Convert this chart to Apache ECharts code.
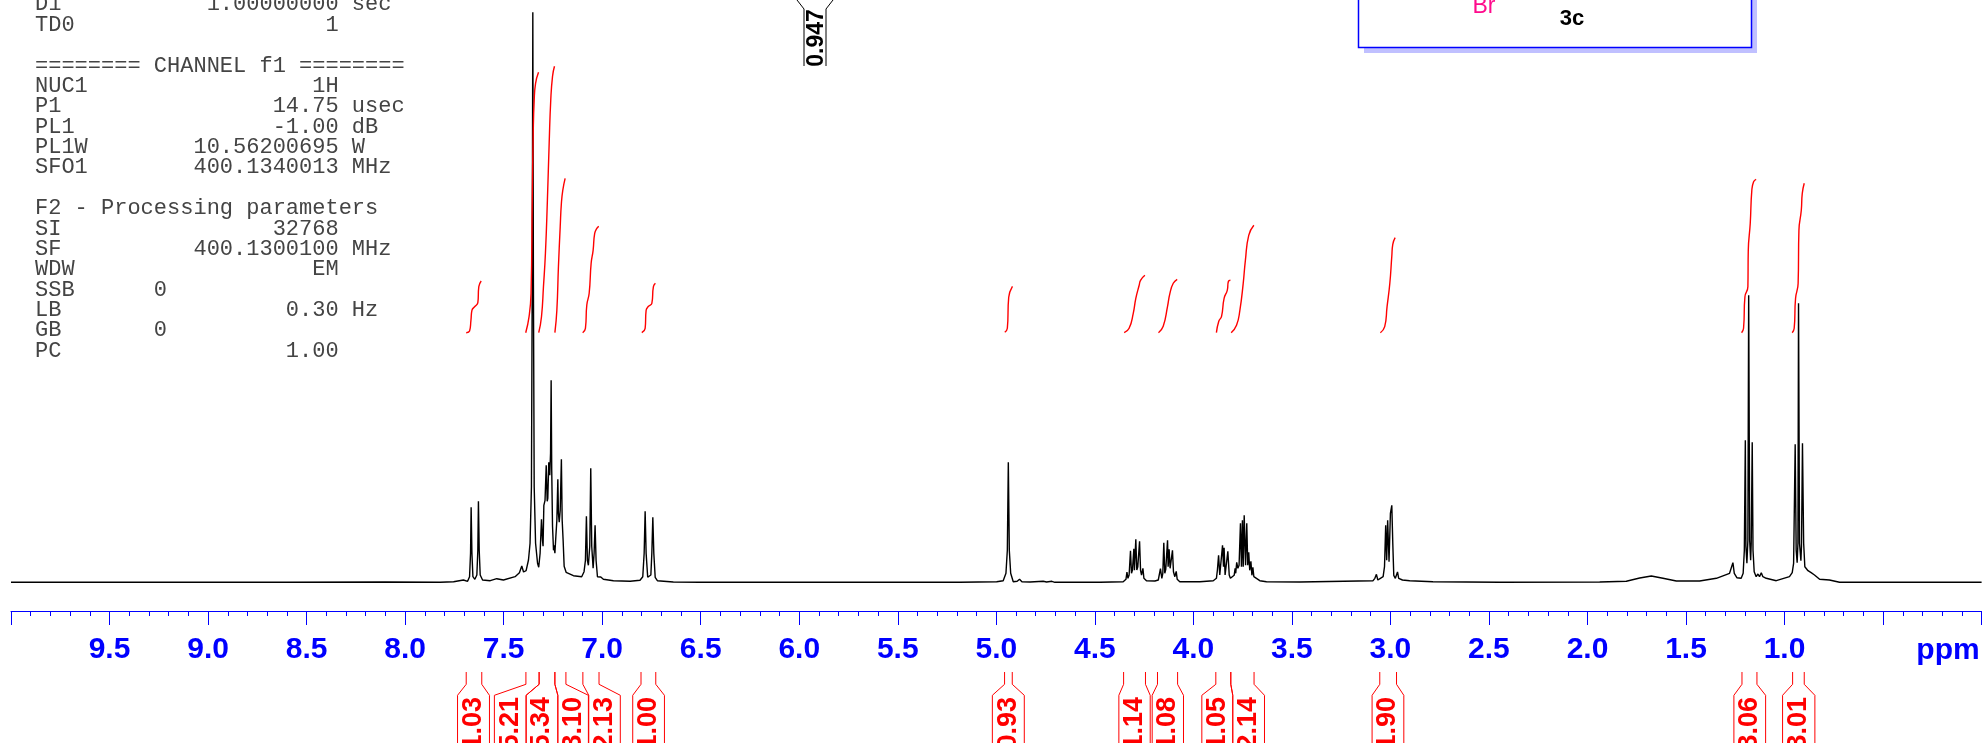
<!DOCTYPE html>
<html><head><meta charset="utf-8">
<style>html,body{margin:0;padding:0;background:#fff}#c{width:1982px;height:743px}</style>
<script src="https://cdn.jsdelivr.net/npm/echarts@6/dist/echarts.min.js"></script>
</head><body><div id="c"></div>
<script>
// x axis tick labels
const tickLabels = ['9.5','9.0','8.5','8.0','7.5','7.0','6.5','6.0','5.5','5.0','4.5','4.0','3.5','3.0','2.5','2.0','1.5','1.0'];

// spectrum: [ppm, intensity]
const specAromatic = [[10,0],[9.2,0.2],[8.6,0],[8.1,0.3],[7.822,0],[7.754,.6],[7.704,2.3],[7.683,1],[7.673,5.6],[7.668,29],[7.665,75],[7.661,29],[7.656,5.6],[7.646,3],[7.636,7.3],[7.631,32],[7.628,81],[7.624,32],[7.619,7.3],[7.607,2.3],[7.568,1.6],[7.535,3.6],[7.501,2.3],[7.442,5.6],[7.42,9.6],[7.408,16.3],[7.399,10.3],[7.386,11.6],[7.374,22.3],[7.366,39],[7.359,95.6],[7.355,300],[7.352,570],[7.349,300],[7.345,95.6],[7.338,39],[7.328,19],[7.322,15],[7.315,29],[7.308,63],[7.303,42],[7.3,36],[7.296,77],[7.29,82],[7.284,117],[7.279,81],[7.276,84],[7.271,120],[7.266,107],[7.262,129],[7.259,202],[7.256,112],[7.252,56],[7.247,32],[7.244,37],[7.24,29],[7.235,46],[7.23,62],[7.225,103],[7.222,69],[7.218,60],[7.213,72],[7.207,123],[7.203,62],[7.198,41],[7.193,16],[7.183,10],[7.146,6.6],[7.104,5.6],[7.092,10.6],[7.085,22],[7.08,66],[7.075,22],[7.07,17],[7.063,36],[7.058,114],[7.053,36],[7.046,14],[7.041,29],[7.036,57],[7.031,22],[7.024,5.6],[7.014,4.3],[7.007,5.3],[6.994,3],[6.943,1.6],[6.858,1],[6.808,2],[6.794,5.6],[6.787,29],[6.782,71],[6.777,29],[6.769,5],[6.762,3.6],[6.753,7.3],[6.748,29],[6.743,65],[6.738,29],[6.731,5],[6.72,1.6],[6.639,.3],[6.503,0]];
const specBenzylic = [[5.185,0],[4.998,.6],[4.965,1.6],[4.951,9],[4.944,32],[4.939,120],[4.934,32],[4.927,9],[4.914,.6],[4.894,1],[4.882,3],[4.87,.6],[4.829,.3],[4.762,1],[4.745,.3],[4.718,1],[4.703,0],[4.474,0]];
const specMethine = [[4.356,.6],[4.342,3],[4.337,10.3],[4.332,4],[4.326,7.3],[4.319,31.6],[4.314,9],[4.309,12.3],[4.302,33.6],[4.299,12],[4.292,43],[4.287,12.3],[4.282,15.6],[4.273,41],[4.268,12],[4.263,7.3],[4.256,14],[4.251,4],[4.238,1.6],[4.195,1.3],[4.178,2.3],[4.167,13.6],[4.16,4],[4.155,9],[4.15,39.6],[4.145,9],[4.14,13],[4.131,42],[4.128,15.6],[4.123,33],[4.118,14],[4.113,12.3],[4.106,32],[4.101,10.6],[4.094,5.6],[4.087,11],[4.082,3],[4.069,.6],[3.967,.6],[3.899,1.6],[3.883,4],[3.878,12.3],[3.872,27],[3.866,7.3],[3.859,7.3],[3.852,37],[3.847,15.6],[3.844,34.6],[3.839,7.3],[3.832,9],[3.825,31],[3.818,7.3],[3.812,4],[3.802,3],[3.793,7],[3.788,14],[3.785,9],[3.78,20],[3.774,14],[3.768,17],[3.761,59],[3.756,15.6],[3.751,62],[3.747,15.6],[3.742,67],[3.735,17],[3.729,59],[3.724,17],[3.719,30],[3.714,12],[3.708,21],[3.703,7],[3.698,15],[3.693,5.6],[3.683,4],[3.663,1.6],[3.629,.6],[3.46,.3],[3.088,1.6],[3.079,4],[3.071,8],[3.064,2.3],[3.051,4],[3.037,5.6],[3.03,15.6],[3.024,57],[3.019,22],[3.014,62],[3.007,20.6],[3,69],[2.993,77],[2.988,39],[2.983,7],[2.975,4],[2.964,10.3],[2.958,4],[2.948,5],[2.939,2.3],[2.902,1.6],[2.784,.6],[2.446,0]];
const specHump = [[1.938,.3],[1.803,1],[1.735,4.3],[1.676,6.3],[1.617,4],[1.549,1.3],[1.431,1.3]];
const specMethyl = [[1.346,4],[1.279,9],[1.27,10.6],[1.262,19.6],[1.255,9],[1.242,4.6],[1.22,4],[1.21,9],[1.204,32],[1.199,142],[1.196,36],[1.191,19],[1.186,42],[1.182,287],[1.177,42],[1.172,22],[1.169,39],[1.164,140],[1.16,32],[1.154,10.6],[1.144,5.6],[1.135,8.3],[1.127,5.6],[1.118,9.6],[1.11,5.6],[1.093,4],[1.042,1.6],[.975,5.6],[.961,9.6],[.954,19],[.946,138],[.941,32],[.936,19.6],[.932,39],[.929,279],[.924,39],[.917,21.6],[.914,36],[.909,139],[.903,39],[.897,15.6],[.881,11.6],[.865,9.6],[.848,7.3],[.822,3],[.772,2.3],[.721,0],[0,0]];

// integral curves: [ppm, curve height]
const intA = [[7.69,249.6],[7.673,251.3],[7.666,262],[7.661,272],[7.645,276],[7.631,279.6],[7.626,295.6],[7.614,301.3]];
const intB = [[7.388,249.6],[7.371,265.6],[7.361,289],[7.355,382],[7.35,449],[7.345,482],[7.338,499],[7.323,510]];
const intC = [[7.322,249.6],[7.308,265.6],[7.298,295.6],[7.288,329],[7.278,382],[7.269,439],[7.261,482],[7.252,506],[7.242,516]];
const intD = [[7.24,249.6],[7.23,272],[7.222,315.6],[7.213,355.6],[7.207,379],[7.2,392],[7.188,404]];
const intE = [[7.099,249.6],[7.085,254],[7.078,277.3],[7.066,289],[7.056,319],[7.046,332],[7.038,349],[7.027,354],[7.017,356]];
const intF = [[6.799,249.6],[6.782,254],[6.777,272],[6.765,276],[6.748,279],[6.74,295.6],[6.73,299]];
const intG = [[4.957,250],[4.944,254],[4.937,285],[4.918,296]];
const intH = [[4.351,249.6],[4.326,254],[4.305,269],[4.292,284],[4.275,297],[4.268,302],[4.246,307]];
const intI = [[4.177,249.6],[4.153,256],[4.131,276],[4.119,289],[4.102,299],[4.082,303]];
const intJ = [[3.883,249.6],[3.871,261],[3.857,266],[3.844,284],[3.828,292],[3.822,301],[3.812,302]];
const intK = [[3.808,249.6],[3.781,257],[3.764,272],[3.747,299],[3.736,322],[3.719,347],[3.693,357]];
const intL = [[3.051,249.6],[3.029,255.6],[3.017,275.6],[3.003,299],[2.993,326],[2.988,338],[2.976,344.7]];
const intM = [[1.218,249.6],[1.208,254],[1.201,285.6],[1.186,295.6],[1.184,332],[1.174,359],[1.166,392],[1.157,400.6],[1.144,403]];
const intN = [[.961,249.6],[.951,254],[.944,284],[.931,299],[.927,352],[.915,372],[.91,389],[.9,399]];

// integral values and the ppm span each bracket covers
const integralLabels = ['1.03','5.21','5.34','3.10','2.13','1.00','0.93','1.14','1.08','1.05','2.14','1.90','3.06','3.01'];
const integralFrom   = [7.690,7.387,7.320,7.240,7.098,6.803,4.958,4.354,4.182,3.886,3.810,3.054,1.216,0.959];
const integralTo     = [7.611,7.320,7.240,7.184,7.016,6.728,4.919,4.243,4.080,3.810,3.692,2.969,1.140,0.900];
const labelBoxFrom   = [7.734,7.547,7.386,7.225,7.068,6.845,5.020,4.378,4.209,3.957,3.800,3.093,1.257,1.010];
const labelBoxTo     = [7.572,7.386,7.225,7.070,6.908,6.684,4.858,4.219,4.050,3.800,3.639,2.932,1.096,0.846];

// peak label at the top of the page
const peakLabelText = '0.947';

// acquisition and processing parameters
const paramLines = [
 'D1           1.00000000 sec',
 'TD0                   1',
 '',
 '======== CHANNEL f1 ========',
 'NUC1                 1H',
 'P1                14.75 usec',
 'PL1               -1.00 dB',
 'PL1W        10.56200695 W',
 'SFO1        400.1340013 MHz',
 '',
 'F2 - Processing parameters',
 'SI                32768',
 'SF          400.1300100 MHz',
 'WDW                  EM',
 'SSB      0',
 'LB                 0.30 Hz',
 'GB       0',
 'PC                 1.00'
];

const BLUE = '#0000ff', RED = '#ff0000';
const chart = echarts.init(document.getElementById('c'), null, {renderer:'canvas'});

const integralSeries = [intA,intB,intC,intD,intE,intF,intG,intH,intI,intJ,intK,intL,intM,intN].map(d => ({
  type:'line', data:d, symbol:'none', smooth:true, silent:true, animation:false, clip:false,
  lineStyle:{color:RED, width:1.4}, z:5
}));

// bracket heights on the intensity scale (the x axis sits below the baseline)
const bracketTop = -89.7, bracketKink = -102, bracketShoulder = -113, bracketBottom = -160.7;

chart.setOption({
  animation:false,
  backgroundColor:'#ffffff',
  grid:{left:11, width:1970.6, top:0, height:743, containLabel:false, outerBoundsMode:'none'},
  xAxis:{
    type:'value', min:0, max:10, interval:0.5, inverse:true, offset:-132,
    position:'bottom',
    axisLine:{onZero:false, lineStyle:{color:BLUE, width:1}},
    axisTick:{show:true, inside:false, length:14, lineStyle:{color:BLUE, width:1}},
    minorTick:{show:true, splitNumber:5, length:5, lineStyle:{color:BLUE, width:1}},
    splitLine:{show:false}, minorSplitLine:{show:false},
    axisLabel:{
      show:true, margin:24, color:BLUE, fontFamily:'Liberation Sans', fontWeight:'bold', fontSize:30,
      showMinLabel:true, showMaxLabel:true, hideOverlap:false,
      formatter:v => { const s = Number(v).toFixed(1); return tickLabels.includes(s) ? s : ''; }
    }
  },
  yAxis:{type:'value', min:-160.7, max:582.3, show:false},
  series:[
    {type:'line', name:'spectrum', symbol:'none', silent:true, animation:false,
     data:[].concat(specAromatic, specBenzylic, specMethine, specHump, specMethyl),
     lineStyle:{color:'#000', width:1.4}, z:3},
    ...integralSeries,
    {type:'custom', name:'integral brackets', silent:true, animation:false, clip:false, z:6,
     coordinateSystem:'cartesian2d',
     encode:{x:0, y:1},
     data:integralLabels.map((t,i)=>[integralFrom[i],integralTo[i],labelBoxFrom[i],labelBoxTo[i],t]),
     renderItem:(params, api) => {
       const from = api.value(0), to = api.value(1), bFrom = api.value(2), bTo = api.value(3);
       const pts = (a,b) => [[a,bracketTop],[a,bracketKink],[b,bracketShoulder],[b,bracketBottom]].map(p=>api.coord(p));
       const cx = api.coord([(bFrom+bTo)/2, 0])[0];
       const cy = api.coord([0, -141])[1];
       const label = integralLabels[params.dataIndex];
       return {type:'group', children:[
         {type:'polyline', shape:{points:pts(from,bFrom)}, style:{stroke:RED, fill:null, lineWidth:1}},
         {type:'polyline', shape:{points:pts(to,bTo)}, style:{stroke:RED, fill:null, lineWidth:1}},
         {type:'text', x:cx, y:cy, rotation:Math.PI/2,
          style:{text:label, fill:RED, font:'bold 27px "Liberation Sans"', align:'center', verticalAlign:'middle'}}
       ]};
     }}
  ],
  graphic:[
    ...paramLines.map((t,i)=>({type:'text', left:35, top:4.6+20.375*i-11, silent:true,
      style:{text:t, fill:'#444', font:'22px "Liberation Mono"', textVerticalAlign:'top'}})),
    // structure box, cut off by the page top
    {type:'rect', shape:{x:1364,y:-10,width:393,height:63}, style:{fill:'#c0c0ff'}, silent:true, z:1},
    {type:'rect', shape:{x:1358.5,y:-10,width:393,height:57.5}, style:{fill:'#fff',stroke:BLUE,lineWidth:1.5}, silent:true, z:2},
    {type:'text', x:1484, y:7, silent:true, z:3, style:{text:'Br', fill:'#ff0a8c', font:'23px "Liberation Sans"', align:'center', verticalAlign:'middle'}},
    {type:'text', x:1572, y:19, silent:true, z:3, style:{text:'3c', fill:'#000', font:'bold 22px "Liberation Sans"', align:'center', verticalAlign:'middle'}},
    // peak label
    {type:'polyline', shape:{points:[[797,0],[804,9],[804,66]]}, style:{stroke:'#000',fill:null,lineWidth:1}, silent:true},
    {type:'polyline', shape:{points:[[833,0],[826,9],[826,66]]}, style:{stroke:'#000',fill:null,lineWidth:1}, silent:true},
    {type:'text', x:816.5, y:38, rotation:Math.PI/2, silent:true,
     style:{text:peakLabelText, fill:'#000', font:'bold 23px "Liberation Sans"', align:'center', verticalAlign:'middle'}},
    {type:'text', x:1948, y:651, silent:true,
     style:{text:'ppm', fill:BLUE, font:'bold 30px "Liberation Sans"', align:'center', verticalAlign:'middle'}}
  ]
});
</script></body></html>
